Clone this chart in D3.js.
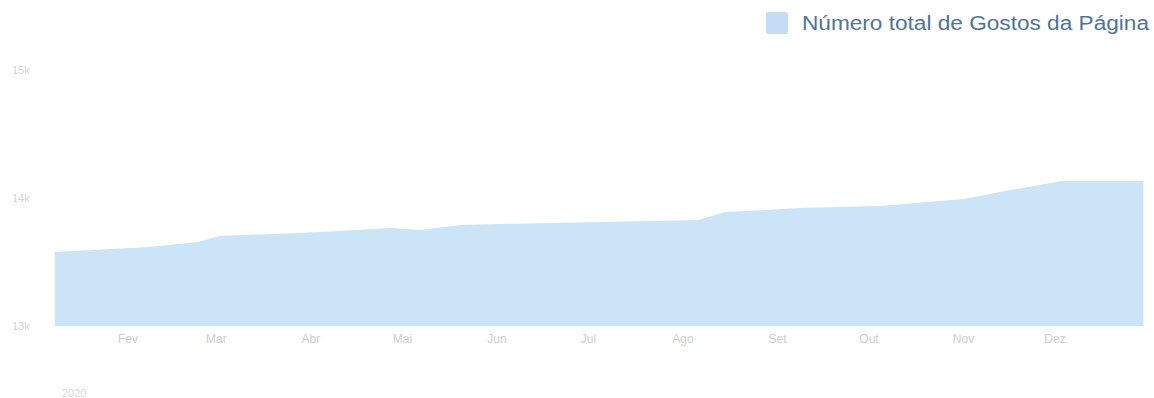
<!DOCTYPE html>
<html><head><meta charset="utf-8">
<script src="https://cdn.jsdelivr.net/npm/d3@7"></script>
<style>body{margin:0;background:#fff;}svg{display:block;font-family:"Liberation Sans",Arial,sans-serif;}</style>
</head><body><svg id="c" width="1154" height="398"></svg>
<script>
const dates = ["2020-01-08","2020-02-08","2020-02-24","2020-03-02","2020-03-28","2020-04-10","2020-04-27","2020-05-07","2020-05-20","2020-06-18","2020-07-05","2020-08-06","2020-08-15","2020-08-22","2020-09-08","2020-10-05","2020-10-24","2020-11-01","2020-11-13","2020-11-26","2020-12-03","2020-12-09","2020-12-30"];
const likes = [13578,13617,13656,13703,13727,13742,13766,13750,13789,13805,13813,13828,13891,13898,13922,13938,13977,13992,14047,14102,14133,14133,14133];
const yTicks = [13000,14000,15000];
const yTickLabels = ["13k","14k","15k"];
const monthLabels = ["Fev","Mar","Abr","Mai","Jun","Jul","Ago","Set","Out","Nov","Dez"];
const yearLabel = "2020";
const seriesName = "Número total de Gostos da Página";

const parse = d3.timeParse("%Y-%m-%d");
const data = dates.map((d,i)=>({date:parse(d), v:likes[i]}));
const svg = d3.select("#c");
const x = d3.scaleTime().domain([new Date(2020,1,1), new Date(2020,11,1)]).range([128,1055]);
const y = d3.scaleLinear().domain([13000,15000]).range([326,70]);

const area = d3.area().x(d=>x(d.date)).y0(y(13000)).y1(d=>y(d.v)).curve(d3.curveLinear);
svg.append("path").datum(data).attr("d",area).attr("fill","#cce4f7");

// y labels
svg.append("g").selectAll("text").data(yTicks).join("text")
  .attr("x",12).attr("y",d=>y(d)+4).attr("font-size",11).attr("fill","#d4d4d4")
  .text((d,i)=>yTickLabels[i]);

// month labels
const months = monthLabels.map((m,i)=>({m, d:new Date(2020,i+1,1)}));
svg.append("g").selectAll("text").data(months).join("text")
  .attr("x",d=>x(d.d)).attr("y",343).attr("text-anchor","middle").attr("font-size",12).attr("fill","#cdcdcd")
  .text(d=>d.m);
svg.append("text").attr("x",62).attr("y",397).attr("font-size",11).attr("fill","#d8d8d8").text(yearLabel);

// legend
svg.append("rect").attr("x",766).attr("y",12).attr("width",22).attr("height",22).attr("rx",2).attr("fill","#c4ddf4");
svg.append("text").attr("x",802).attr("y",30).attr("font-size",20).attr("fill","#4f7399")
  .attr("textLength",347).attr("lengthAdjust","spacingAndGlyphs").text(seriesName);
</script></body></html>
